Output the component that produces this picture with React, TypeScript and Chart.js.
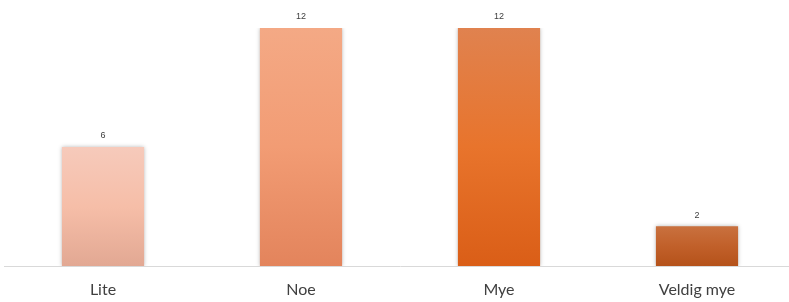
import React, { useEffect, useRef } from "react";
import { Chart, registerables } from "chart.js";

Chart.register(...registerables);

const categories = ["Lite", "Noe", "Mye", "Veldig mye"];
const values = [6, 12, 12, 2];
const gradientTops = ["#f6cabb", "#f4a985", "#e0824f", "#c9713f"];
const gradientMids = ["#f6bea8", "#f29c74", "#e8742c", "#c1602a"];
const gradientBottoms = ["#e2a893", "#e3845c", "#da5e17", "#b5521a"];

const labelPlugin = {
  id: "valueLabels",
  beforeDatasetsDraw(chart: any) {
    chart.ctx.save();
    chart.ctx.shadowColor = "rgba(0,0,0,0.28)";
    chart.ctx.shadowBlur = 4;
    chart.ctx.shadowOffsetX = 0;
    chart.ctx.shadowOffsetY = 0;
  },
  afterDatasetsDraw(chart: any) {
    const ctx = chart.ctx;
    ctx.restore();
    const meta = chart.getDatasetMeta(0);
    ctx.save();
    ctx.font = "9px 'Liberation Sans', Arial, sans-serif";
    ctx.fillStyle = "#404040";
    ctx.textAlign = "center";
    ctx.textBaseline = "middle";
    meta.data.forEach((bar: any, i: number) => {
      ctx.fillText(String(values[i]), bar.x, bar.y - 11);
    });
    ctx.restore();
  },
};

export default function App() {
  const ref = useRef<HTMLCanvasElement>(null);
  useEffect(() => {
    document.body.style.margin = "0";
    const canvas = ref.current!;
    const chart = new Chart(canvas, {
      type: "bar",
      data: {
        labels: categories,
        datasets: [
          {
            data: values,
            backgroundColor: (c: any) => {
              const ch = c.chart;
              const i = c.dataIndex ?? 0;
              const ys = ch.scales && ch.scales.y;
              if (!ch.chartArea || !ys) return gradientMids[i];
              const top = ys.getPixelForValue(values[i]);
              const bottom = ys.getPixelForValue(0);
              if (!isFinite(top) || !isFinite(bottom) || top === bottom) return gradientMids[i];
              const g = ch.ctx.createLinearGradient(0, top, 0, bottom);
              g.addColorStop(0, gradientTops[i]);
              g.addColorStop(0.5, gradientMids[i]);
              g.addColorStop(1, gradientBottoms[i]);
              return g;
            },
            borderWidth: 0,
            barPercentage: 0.83,
            categoryPercentage: 0.5,
          },
        ],
      },
      options: {
        animation: false,
        responsive: false,
        maintainAspectRatio: false,
        layout: { padding: { top: 28, left: 4, right: 4, bottom: 0 } },
        plugins: { legend: { display: false }, tooltip: { enabled: false } },
        scales: {
          x: {
            grid: { display: false, drawTicks: false },
            border: { display: true, color: "#d9d9d9", width: 1 },
            afterFit: (scale: any) => {
              scale.height = 36;
            },
            ticks: {
              color: "#404040",
              padding: 14,
              font: { family: "Lato, 'Liberation Sans', sans-serif", size: 16 },
            },
          },
          y: {
            display: false,
            min: 0,
            max: 12,
          },
        },
      },
      plugins: [labelPlugin],
    });
    return () => chart.destroy();
  }, []);
  return (
    <div style={{ width: 789, height: 302, overflow: "hidden", position: "relative" }}>
      <canvas ref={ref} width={800} height={302} style={{ display: "block" }} />
    </div>
  );
}
